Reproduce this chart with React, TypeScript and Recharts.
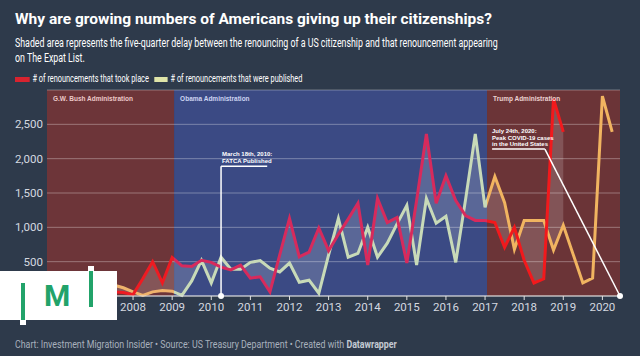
import React from 'react';
import {
  ComposedChart,
  Line,
  Area,
  XAxis,
  YAxis,
  CartesianGrid,
  ReferenceArea,
  ReferenceLine,
  ReferenceDot,
} from 'recharts';

// quarter start (year + q/4)
const QUARTERS = [
  2006, 2006.25, 2006.5, 2006.75, 2007, 2007.25, 2007.5, 2007.75,
  2008, 2008.25, 2008.5, 2008.75, 2009, 2009.25, 2009.5, 2009.75,
  2010, 2010.25, 2010.5, 2010.75, 2011, 2011.25, 2011.5, 2011.75,
  2012, 2012.25, 2012.5, 2012.75, 2013, 2013.25, 2013.5, 2013.75,
  2014, 2014.25, 2014.5, 2014.75, 2015, 2015.25, 2015.5, 2015.75,
  2016, 2016.25, 2016.5, 2016.75, 2017, 2017.25, 2017.5, 2017.75,
  2018, 2018.25, 2018.5, 2018.75, 2019, 2019.25, 2019.5, 2019.75,
  2020, 2020.25,
];

const TOOK_PLACE = [
  60, 50, 80, 60, 70, 90, 60, 50,
  20, 250, 500, 190, 560, 440, 430, 520,
  490, 420, 380, 450, 260, 280, 60, 600,
  1130, 570, 640, 990, 660, 900, 1120, 1350,
  450, 1420, 1070, 1145, 480, 1390, 2360, 1350,
  1750, 1390, 1170, 1100, 1100, 1070, 710, 1000,
  520, 190, 250, 2870, 2390, null, null, null,
  null, null,
];

const PUBLISHED = [
  120, 140, 110, 150, 130, 170, 160, 120,
  60, 10, 60, 80, 70, 10, 220, 520,
  190, 565, 390, 390, 490, 515, 405, 350,
  480, 200, 230, 40, 600, 1130, 565, 620,
  1000, 565, 770, 1050, 1320, 450, 1420, 1060,
  1160, 490, 1400, 2360, 1290, 1740, 1360, 680,
  1100, 1100, 1100, 670, 1030, 610, 190, 260,
  2910, 2390,
];

// 2006 and 2007 sit under the logo
const YEARS = [2008, 2009, 2010, 2011, 2012, 2013, 2014, 2015, 2016, 2017, 2018, 2019, 2020];
const Y_TICKS = [500, 1000, 1500, 2000, 2500];

// administrations
const ADMINS = [
  { name: 'G.W. Bush Administration', from: 2005.8, to: 2009.05, fill: '#6d3539', text: '#ecc9c9' },
  { name: 'Obama Administration', from: 2009.05, to: 2017.05, fill: '#3b4a84', text: '#cdd4f2' },
  { name: 'Trump Administration', from: 2017.05, to: 2020.45, fill: '#6b3437', text: '#ecd2d2' },
];

const FATCA_DATE = 2010.25;
const COVID_DATE = 2020.45;

const BG = '#2e3a4b';
const AXIS_TEXT = '#d5d9e0';

function stops(first: number, last: number) {
  const a = (ADMINS[0].to - first) / (last - first);
  const b = (ADMINS[1].to - first) / (last - first);
  return [a, b];
}

const Narrow = ({ children, scale = 0.76, style }: any) => (
  <div style={{ transform: `scaleX(${scale})`, transformOrigin: 'left center', whiteSpace: 'nowrap', ...style }}>
    {children}
  </div>
);

export default function App() {
  const data = QUARTERS.map((q, i) => ({ q, took: TOOK_PLACE[i], pub: PUBLISHED[i] }));
  const lastTook = QUARTERS[TOOK_PLACE.findIndex((v) => v == null) - 1];
  const [ra, rb] = stops(QUARTERS[0], lastTook);
  const [pa, pb] = stops(QUARTERS[0], QUARTERS[QUARTERS.length - 1]);

  return (
    <div
      style={{
        position: 'absolute', left: 0, top: 0, width: 640, height: 356,
        background: BG, overflow: 'hidden', fontFamily: 'Roboto, sans-serif', color: '#fff',
      }}
    >
      <div style={{ position: 'absolute', left: 15, top: 10, fontSize: 15.5, fontWeight: 700, lineHeight: '18px' }}>
        Why are growing numbers of Americans giving up their citizenships?
      </div>
      <Narrow scale={0.735} style={{ position: 'absolute', left: 15, top: 36, fontSize: 12, lineHeight: '15px' }}>
        Shaded area represents the five-quarter delay between the renouncing of a US citizenship and that renouncement appearing
        <br />
        on The Expat List.
      </Narrow>
      <Narrow scale={0.7} style={{ position: 'absolute', left: 15, top: 72, fontSize: 10.5, lineHeight: '14px', display: 'flex', alignItems: 'center' }}>
        <span style={{ display: 'inline-block', width: 21, height: 5, background: '#d8232f', marginRight: 4 }} />
        <span># of renouncements that took place</span>
        <span style={{ display: 'inline-block', width: 19, height: 5, background: '#dfe4a9', margin: '0 4px 0 8px' }} />
        <span># of renouncements that were published</span>
      </Narrow>

      <div style={{ position: 'absolute', left: 0, top: 80 }}>
        <ComposedChart width={640} height={240} data={data} margin={{ top: 10, right: 20, bottom: 0, left: 0 }}>
          <defs>
            <linearGradient id="tookGrad" x1="0" y1="0" x2="1" y2="0">
              <stop offset={ra} stopColor="#ee1b22" />
              <stop offset={ra} stopColor="#d72a5c" />
              <stop offset={rb} stopColor="#d72a5c" />
              <stop offset={rb} stopColor="#f2191c" />
            </linearGradient>
            <linearGradient id="pubGrad" x1="0" y1="0" x2="1" y2="0">
              <stop offset={pa} stopColor="#efb36c" />
              <stop offset={pa} stopColor="#c8dab8" />
              <stop offset={pb} stopColor="#c8dab8" />
              <stop offset={pb} stopColor="#f1b460" />
            </linearGradient>
          </defs>
          {ADMINS.map((a) => (
            <ReferenceArea
              key={a.name}
              x1={a.from}
              x2={a.to}
              y1={0}
              y2={3000}
              fill={a.fill}
              fillOpacity={1}
              stroke="none"
              zIndex={-150}
              label={{
                value: a.name,
                position: 'insideTopLeft',
                offset: 6,
                fill: a.text,
                fontSize: 6.5,
                fontWeight: 700,
                fontFamily: 'Arial, Liberation Sans, sans-serif',
              }}
            />
          ))}
          <CartesianGrid vertical={false} stroke="rgba(255,255,255,0.32)" strokeWidth={1} />
          <XAxis
            dataKey="q"
            type="number"
            domain={[2005.8, 2020.45]}
            ticks={YEARS}
            interval={0}
            allowDataOverflow
            height={24}
            tickSize={4}
            tickMargin={3}
            axisLine={{ stroke: '#e2e2e2', strokeWidth: 1 }}
            tickLine={{ stroke: '#e2e2e2' }}
            tick={{ fill: AXIS_TEXT, fontSize: 11.5 }}
          />
          <YAxis
            type="number"
            domain={[0, 3000]}
            ticks={Y_TICKS}
            width={47}
            axisLine={false}
            tickLine={false}
            tickSize={0}
            tickMargin={4}
            tickFormatter={(v: number) => v.toLocaleString('en-US')}
            tick={{ fill: AXIS_TEXT, fontSize: 11.5 }}
          />
          <Area
            dataKey={(d: any) => (d.took == null ? null : [d.took, d.pub])}
            type="linear"
            fill="#ffffff"
            fillOpacity={0.16}
            stroke="none"
            isAnimationActive={false}
            activeDot={false}
          />
          <Line
            dataKey="pub"
            type="linear"
            stroke="url(#pubGrad)"
            strokeWidth={3}
            dot={false}
            activeDot={false}
            isAnimationActive={false}
          />
          <Line
            dataKey="took"
            type="linear"
            stroke="url(#tookGrad)"
            strokeWidth={3}
            dot={false}
            activeDot={false}
            isAnimationActive={false}
          />
          <ReferenceLine
            segment={[{ x: FATCA_DATE, y: 0 }, { x: FATCA_DATE, y: 1890 }]}
            stroke="#fff"
            strokeWidth={1.5}
          />
          <ReferenceLine
            segment={[{ x: FATCA_DATE, y: 1890 }, { x: 2011.43, y: 1890 }]}
            stroke="#fff"
            strokeWidth={1.5}
          />
          <ReferenceDot x={FATCA_DATE} y={0} r={3} fill="#fff" stroke="none" ifOverflow="visible" />
          <ReferenceLine
            segment={[{ x: 2017.18, y: 2140 }, { x: 2018.53, y: 2140 }]}
            stroke="#fff"
            strokeWidth={1.5}
          />
          <ReferenceLine
            segment={[{ x: 2018.53, y: 2140 }, { x: COVID_DATE, y: 0 }]}
            stroke="#fff"
            strokeWidth={1.5}
            ifOverflow="visible"
          />
          <ReferenceDot x={COVID_DATE} y={0} r={3} fill="#fff" stroke="none" ifOverflow="visible" />
        </ComposedChart>
      </div>

      {/* annotation texts */}
      <div style={{ position: 'absolute', left: 222, top: 151, fontSize: 6, fontWeight: 700, lineHeight: '7px', fontFamily: 'Arial, Liberation Sans, sans-serif' }}>
        March 18th, 2010:
        <br />
        FATCA Published
      </div>
      <div style={{ position: 'absolute', left: 492, top: 128, fontSize: 6, fontWeight: 700, lineHeight: '6.5px', fontFamily: 'Arial, Liberation Sans, sans-serif' }}>
        July 24th, 2020:
        <br />
        Peak COVID-19 cases
        <br />
        in the United States
      </div>

      {/* IMI logo */}
      <div style={{ position: 'absolute', left: 0, top: 271, width: 117, height: 49, background: '#ffffff' }} />
      <div style={{ position: 'absolute', left: 21, top: 283, width: 4, height: 37, background: '#22a36a' }} />
      <div style={{ position: 'absolute', left: 20, top: 320, width: 6, height: 5, background: '#ffffff' }} />
      <div style={{ position: 'absolute', left: 89, top: 271, width: 4, height: 36, background: '#22a36a' }} />
      <div style={{ position: 'absolute', left: 88, top: 266, width: 6, height: 5, background: '#ffffff' }} />
      <div style={{ position: 'absolute', left: 44, top: 280, fontSize: 30, fontWeight: 700, color: '#22a36a', fontFamily: 'Roboto, sans-serif', lineHeight: '31px' }}>
        M
      </div>

      <Narrow scale={0.84} style={{ position: 'absolute', left: 15, top: 338, fontSize: 10.5, lineHeight: '14px', color: '#a9b1bd' }}>
        Chart: Investment Migration Insider • Source: US Treasury Department • Created with <b style={{ color: '#c4cad3' }}>Datawrapper</b>
      </Narrow>
    </div>
  );
}
